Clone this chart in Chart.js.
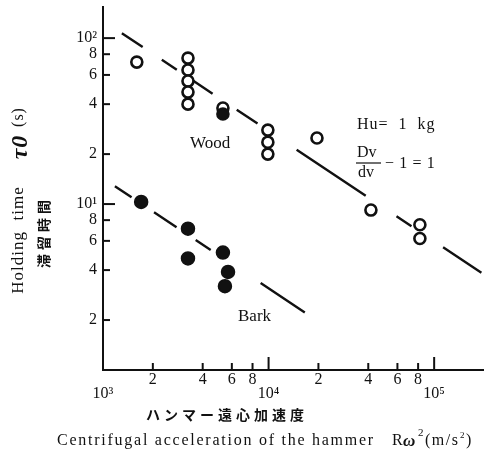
<!DOCTYPE html>
<html>
<head>
<meta charset="utf-8">
<script src="https://cdn.jsdelivr.net/npm/chart.js@4.4.0/dist/chart.umd.min.js"></script>
<style>
  html, body { margin: 0; padding: 0; background: #fff; }
  #wrap { width: 484px; height: 456px; }
</style>
</head>
<body>
<div id="wrap"><canvas id="chart" width="484" height="456"></canvas></div>
<script>
// Wood (open circles)
const woodX = [1600, 3260, 3260, 3260, 3260, 3260, 5300, 5300, 9900, 9900, 9900, 19600, 41500, 82000, 82000];
const woodY = [71.7, 75.8, 64.2, 55.1, 47.3, 40.0, 37.9, 34.9, 27.9, 23.6, 20.0, 25.0, 9.2, 7.5, 6.2];
// Bark (filled circles)
const barkX = [1700, 3260, 3260, 5300, 5690, 5450];
const barkY = [10.3, 7.1, 4.7, 5.1, 3.9, 3.2];
// fitted dashed lines, end points
const woodFitX = [1300, 194000];
const woodFitY = [107, 3.84];
const barkFitX = [1180, 16800];
const barkFitY = [12.8, 2.2];

const xTicks = [1e3, 2e3, 4e3, 6e3, 8e3, 1e4, 2e4, 4e4, 6e4, 8e4, 1e5];
const xTickLabels = ['10³', '2', '4', '6', '8', '10⁴', '2', '4', '6', '8', '10⁵'];
const yTicks = [2, 4, 6, 8, 10, 20, 40, 60, 80, 100];
const yTickLabels = ['2', '4', '6', '8', '10¹', '2', '4', '6', '8', '10²'];

const SERIF = '"Liberation Serif", "DejaVu Serif", serif';
const INK = '#111';

const toPts = (xs, ys) => xs.map((x, i) => ({ x: x, y: ys[i] }));
const isMajor = v => Math.abs(Math.log10(v) - Math.round(Math.log10(v))) < 1e-9;

// tick marks drawn inward, longer on decades
const innerTicks = {
  id: 'innerTicks',
  afterDraw(chart) {
    const ctx = chart.ctx;
    const xs = chart.scales.x, ys = chart.scales.y;
    const area = chart.chartArea;
    ctx.save();
    ctx.strokeStyle = INK;
    ctx.lineWidth = 2;
    xs.ticks.forEach(t => {
      if (t.value === xs.min) return;
      const px = xs.getPixelForValue(t.value);
      const len = isMajor(t.value) ? 13 : 7;
      ctx.beginPath();
      ctx.moveTo(px, area.bottom);
      ctx.lineTo(px, area.bottom - len);
      ctx.stroke();
    });
    ys.ticks.forEach(t => {
      const py = ys.getPixelForValue(t.value);
      const len = isMajor(t.value) ? 12 : 7;
      ctx.beginPath();
      ctx.moveTo(area.left, py);
      ctx.lineTo(area.left + len, py);
      ctx.stroke();
    });
    ctx.restore();
  }
};

// titles and annotations
const notes = {
  id: 'notes',
  afterDraw(chart) {
    const ctx = chart.ctx;
    ctx.save();
    ctx.fillStyle = INK;
    ctx.strokeStyle = INK;
    ctx.textBaseline = 'middle';

    ctx.textAlign = 'left';
    ctx.font = '17px ' + SERIF;
    ctx.fillText('Wood', 190, 144);
    ctx.fillText('Bark', 238, 317);

    ctx.font = '16px ' + SERIF;
    ctx.letterSpacing = '1px';
    ctx.fillText('Hu=  1  kg', 357, 125);
    ctx.letterSpacing = '0px';
    ctx.fillText('Dv', 357, 153);
    ctx.fillText('dv', 358, 173);
    ctx.lineWidth = 1.2;
    ctx.beginPath();
    ctx.moveTo(356, 163);
    ctx.lineTo(381, 163);
    ctx.stroke();
    ctx.letterSpacing = '0.6px';
    ctx.fillText('− 1 = 1', 385, 164);

    // x titles
    ctx.font = 'bold 14px "Noto Sans CJK JP"';
    ctx.letterSpacing = '4px';
    ctx.fillText('ハンマー遠心加速度', 146, 415);
    ctx.font = '16px ' + SERIF;
    ctx.letterSpacing = '1.75px';
    ctx.fillText('Centrifugal acceleration of the hammer', 57, 441);
    ctx.letterSpacing = '0px';
    ctx.fillText('R', 392, 441);
    ctx.font = 'bold italic 17px ' + SERIF;
    ctx.fillText('ω', 403, 442);
    ctx.font = '11px ' + SERIF;
    ctx.fillText('2', 418, 433);
    ctx.font = '16px ' + SERIF;
    ctx.letterSpacing = '1.5px';
    ctx.fillText('(m/s', 425, 441);
    ctx.letterSpacing = '0px';
    ctx.font = '9px ' + SERIF;
    ctx.fillText('2', 460, 436);
    ctx.font = '16px ' + SERIF;
    ctx.fillText(')', 466, 441);

    // y titles, rotated
    const vtext = (txt, x, y, font, spacing) => {
      ctx.save();
      ctx.translate(x, y);
      ctx.rotate(-Math.PI / 2);
      ctx.textAlign = 'center';
      ctx.font = font;
      ctx.letterSpacing = spacing || '0px';
      ctx.fillText(txt, 0, 0);
      ctx.restore();
    };
    vtext('Holding  time', 19, 240, '17px ' + SERIF, '1px');
    vtext('τ0', 21, 147, 'bold italic 24px ' + SERIF, '1px');
    vtext('(s)', 19, 117, '16px ' + SERIF, '1px');
    vtext('滞留時間', 44, 232, 'bold 14px "Noto Sans CJK JP"', '4px');
    ctx.restore();
  }
};

new Chart(document.getElementById('chart'), {
  data: {
    datasets: [
      {
        type: 'scatter',
        label: 'Wood',
        data: toPts(woodX, woodY),
        pointRadius: 5.5,
        pointBorderWidth: 2.6,
        pointBorderColor: INK,
        pointBackgroundColor: woodX.map((_, i) => (i === 7 ? INK : '#fff')),
        order: 1
      },
      {
        type: 'scatter',
        label: 'Bark',
        data: toPts(barkX, barkY),
        pointRadius: 6.5,
        pointBorderWidth: 1.5,
        pointBorderColor: INK,
        pointBackgroundColor: INK,
        order: 1
      },
      {
        type: 'line',
        label: 'Wood fit',
        data: toPts(woodFitX, woodFitY),
        borderColor: INK,
        borderWidth: 2.4,
        borderDash: [25, 23, 18, 18, 25, 29, 25, 47, 83, 37, 18, 38, 46, 40],
        pointRadius: 0,
        fill: false,
        order: 2
      },
      {
        type: 'line',
        label: 'Bark fit',
        data: toPts(barkFitX, barkFitY),
        borderColor: INK,
        borderWidth: 2.4,
        borderDash: [20, 27, 27, 23, 18, 60, 53, 40],
        pointRadius: 0,
        fill: false,
        order: 2
      }
    ]
  },
  options: {
    responsive: false,
    animation: false,
    layout: { autoPadding: false, padding: { top: 7, right: 0, left: 0, bottom: 0 } },
    plugins: {
      legend: { display: false },
      tooltip: { enabled: false },
      title: { display: false }
    },
    scales: {
      x: {
        type: 'logarithmic',
        position: 'bottom',
        min: 1000,
        max: 200000,
        afterFit: s => { s.height = 86; s.paddingLeft = 0; s.paddingRight = 0; },
        afterBuildTicks: s => { s.ticks = xTicks.map(v => ({ value: v, major: false })); },
        grid: { display: false, drawTicks: false },
        border: { display: true, color: INK, width: 2 },
        ticks: {
          autoSkip: false,
          maxRotation: 0,
          padding: 3,
          color: INK,
          font: { family: SERIF, size: 16, lineHeight: 0.85 },
          callback: (v) => {
            const i = xTicks.indexOf(v);
            if (i < 0) return '';
            return isMajor(v) ? ['', xTickLabels[i]] : xTickLabels[i];
          }
        }
      },
      y: {
        type: 'logarithmic',
        position: 'left',
        min: 1,
        max: 154,
        afterFit: s => { s.width = 103; s.paddingTop = 0; s.paddingBottom = 0; },
        afterBuildTicks: s => { s.ticks = yTicks.map(v => ({ value: v, major: false })); },
        grid: { display: false, drawTicks: false },
        border: { display: true, color: INK, width: 2 },
        ticks: {
          autoSkip: false,
          padding: 6,
          color: INK,
          font: { family: SERIF, size: 16 },
          callback: (v) => {
            const i = yTicks.indexOf(v);
            return i < 0 ? '' : yTickLabels[i];
          }
        }
      }
    }
  },
  plugins: [innerTicks, notes]
});
</script>
</body>
</html>
